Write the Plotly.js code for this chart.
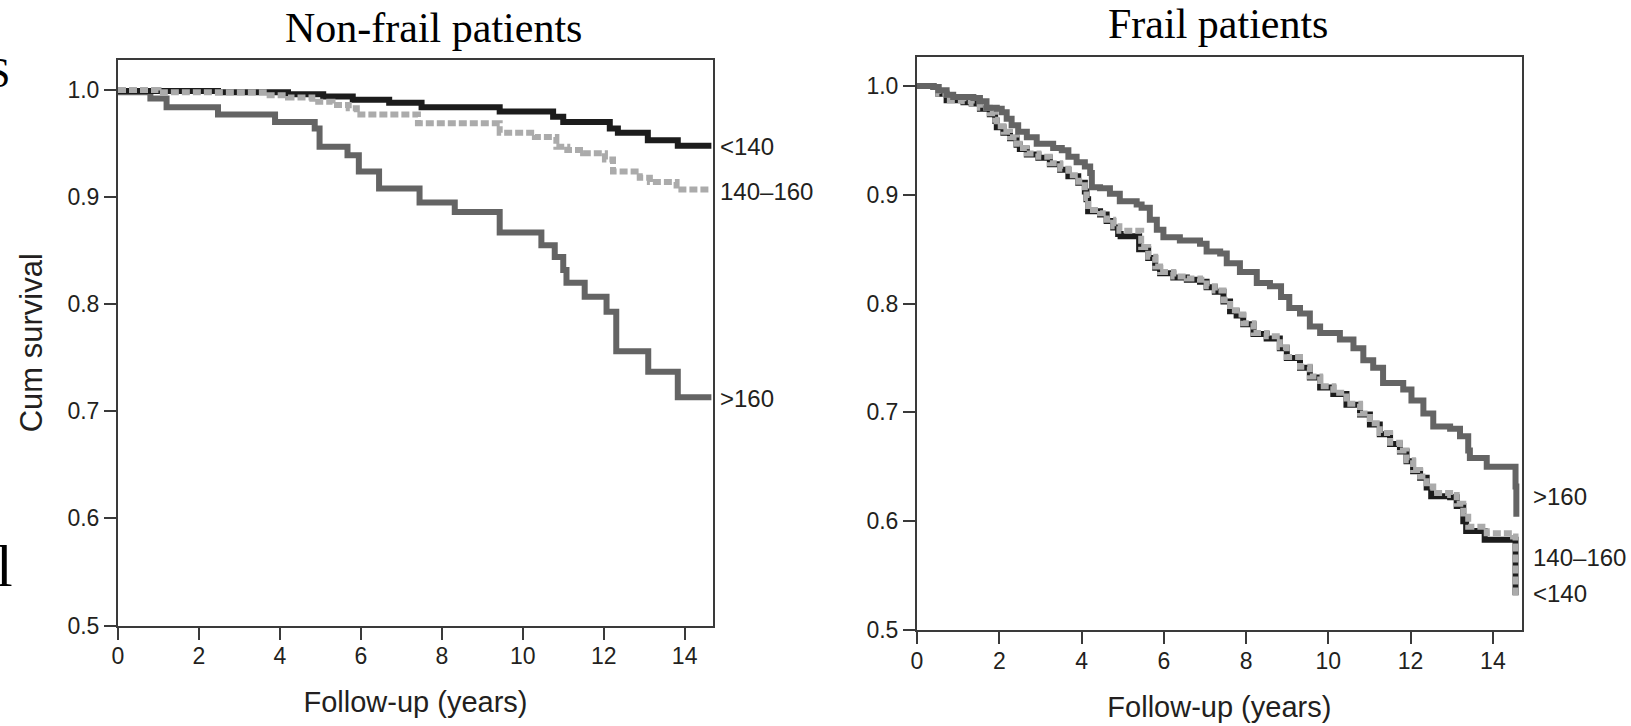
<!DOCTYPE html>
<html>
<head>
<meta charset="utf-8">
<script src="https://cdn.plot.ly/plotly-3.0.1.min.js"></script>
<style>html,body{margin:0;padding:0;background:#fff;}#chart{width:1631px;height:726px;}</style>
</head>
<body>
<div id="chart"></div>
<script>
// ---------- data ----------
const panelTitles = ['Non-frail patients', 'Frail patients'];
const seriesNames = ['<140', '140\u2013160', '>160'];
const xTicks = [0, 2, 4, 6, 8, 10, 12, 14];
const yTicks = [0.5, 0.6, 0.7, 0.8, 0.9, 1.0];
const xTitle = 'Follow-up (years)';
const yTitle = 'Cum survival';

// Non-frail patients
const nf_lt140_t = [0, 2.47, 4.2, 5.07, 5.8, 6.7, 7.5, 9.43, 10.75, 11.0, 12.15, 12.35, 13.09, 13.83, 14.66];
const nf_lt140_s = [0.999, 0.998, 0.996, 0.994, 0.991, 0.988, 0.984, 0.980, 0.975, 0.970, 0.964, 0.960, 0.953, 0.948, 0.948];

const nf_mid_t = [0, 1.0, 3.6, 4.2, 4.8, 5.3, 5.7, 5.9, 7.41, 9.43, 10.3, 10.83, 11.1, 11.49, 12.03, 12.23, 12.89, 13.14, 13.8, 14.66];
const nf_mid_s = [1.0, 0.998, 0.995, 0.993, 0.989, 0.986, 0.983, 0.977, 0.969, 0.960, 0.956, 0.947, 0.944, 0.941, 0.935, 0.924, 0.918, 0.914, 0.907, 0.907];

const nf_gt160_t = [0, 0.8, 1.2, 2.47, 3.88, 4.86, 4.98, 5.67, 5.95, 6.45, 7.45, 8.32, 9.43, 10.46, 10.79, 11.0, 11.08, 11.53, 12.07, 12.31, 13.1, 13.83, 14.66];
const nf_gt160_s = [0.998, 0.992, 0.984, 0.977, 0.970, 0.964, 0.947, 0.939, 0.924, 0.908, 0.895, 0.886, 0.867, 0.855, 0.844, 0.832, 0.820, 0.807, 0.793, 0.756, 0.737, 0.713, 0.713];

// Frail patients
const fr_lt140_t = [0, 0.40, 0.52, 0.72, 1.13, 1.33, 1.53, 1.77, 1.90, 1.94, 2.10, 2.26, 2.42, 2.50, 2.67, 2.95, 3.23, 3.48, 3.68, 3.92, 4.08, 4.12, 4.16, 4.45, 4.61, 4.77, 4.89, 4.95, 5.40, 5.62, 5.79, 5.91, 6.23, 6.56, 6.88, 7.04, 7.24, 7.45, 7.61, 7.77, 7.93, 8.18, 8.50, 8.82, 8.99, 9.31, 9.55, 9.80, 10.12, 10.44, 10.77, 11.01, 11.25, 11.50, 11.74, 11.90, 12.06, 12.23, 12.39, 12.50, 12.96, 13.12, 13.28, 13.35, 13.80, 14.49, 14.55];
const fr_lt140_s = [1.000, 0.999, 0.993, 0.987, 0.985, 0.984, 0.979, 0.974, 0.968, 0.962, 0.957, 0.952, 0.946, 0.942, 0.937, 0.934, 0.928, 0.923, 0.917, 0.911, 0.903, 0.896, 0.885, 0.882, 0.876, 0.870, 0.864, 0.862, 0.850, 0.842, 0.833, 0.828, 0.824, 0.822, 0.820, 0.815, 0.811, 0.802, 0.793, 0.789, 0.781, 0.772, 0.768, 0.759, 0.750, 0.741, 0.732, 0.723, 0.717, 0.707, 0.698, 0.689, 0.680, 0.671, 0.664, 0.655, 0.646, 0.640, 0.631, 0.623, 0.622, 0.614, 0.600, 0.591, 0.583, 0.583, 0.532];

const fr_mid_t = [0, 0.40, 0.52, 0.72, 1.13, 1.33, 1.53, 1.77, 1.90, 1.94, 2.10, 2.26, 2.42, 2.50, 2.67, 2.95, 3.23, 3.48, 3.68, 3.92, 4.08, 4.12, 4.16, 4.45, 4.61, 4.77, 4.92, 5.45, 5.62, 5.79, 5.91, 6.23, 6.56, 6.88, 7.04, 7.24, 7.45, 7.61, 7.77, 7.93, 8.18, 8.50, 8.82, 8.99, 9.31, 9.55, 9.80, 10.12, 10.44, 10.77, 11.01, 11.25, 11.50, 11.74, 11.90, 12.06, 12.23, 12.39, 12.55, 12.96, 13.12, 13.28, 13.40, 13.85, 14.49, 14.55];
const fr_mid_s = [1.000, 0.999, 0.993, 0.987, 0.986, 0.984, 0.980, 0.975, 0.969, 0.963, 0.958, 0.953, 0.947, 0.943, 0.938, 0.935, 0.929, 0.924, 0.918, 0.912, 0.904, 0.897, 0.886, 0.883, 0.877, 0.871, 0.867, 0.852, 0.843, 0.834, 0.829, 0.825, 0.823, 0.822, 0.816, 0.812, 0.803, 0.794, 0.790, 0.782, 0.773, 0.770, 0.760, 0.751, 0.742, 0.733, 0.724, 0.718, 0.708, 0.699, 0.690, 0.681, 0.672, 0.665, 0.656, 0.647, 0.641, 0.632, 0.626, 0.624, 0.616, 0.607, 0.595, 0.589, 0.586, 0.532];

const fr_gt160_t = [0, 0.40, 0.52, 0.72, 0.88, 1.37, 1.53, 1.69, 1.94, 2.06, 2.18, 2.30, 2.46, 2.67, 2.91, 3.31, 3.52, 3.68, 3.88, 4.08, 4.21, 4.25, 4.45, 4.69, 4.93, 5.34, 5.46, 5.66, 5.83, 5.99, 6.39, 6.88, 7.04, 7.37, 7.53, 7.85, 8.26, 8.58, 8.85, 9.05, 9.31, 9.55, 9.80, 10.28, 10.61, 10.85, 11.09, 11.33, 11.82, 12.02, 12.31, 12.55, 12.96, 13.20, 13.40, 13.44, 13.85, 14.55, 14.57];
const fr_gt160_s = [1.000, 0.999, 0.996, 0.992, 0.990, 0.989, 0.986, 0.980, 0.979, 0.976, 0.970, 0.964, 0.958, 0.953, 0.947, 0.943, 0.941, 0.935, 0.930, 0.926, 0.920, 0.907, 0.906, 0.901, 0.894, 0.891, 0.888, 0.877, 0.868, 0.861, 0.858, 0.855, 0.848, 0.846, 0.837, 0.829, 0.819, 0.816, 0.806, 0.796, 0.791, 0.779, 0.773, 0.767, 0.759, 0.748, 0.741, 0.727, 0.721, 0.711, 0.699, 0.687, 0.685, 0.678, 0.665, 0.658, 0.650, 0.632, 0.604];

// label anchor values (end-of-curve labels)
const nfLabelY = [0.947, 0.905, 0.712];
const frLabelY = [0.534, 0.567, 0.6225];

// ---------- styling ----------
const W = 1631, H = 726;
const sansFont = "'Liberation Sans Narrow', 'Arial Narrow', 'Liberation Sans', Arial, sans-serif";
const serifFont = "'Liberation Serif', 'Times New Roman', serif";
const textColor = '#231f20';
const axisColor = '#3a3a3a';
const colors = ['#1c1c1c', '#ababab', '#646464'];
const dashes = ['solid', '8px,3px', 'solid'];
const LW = 6;

function trace(t, s, i, xa, ya) {
  return {
    x: t, y: s, type: 'scatter', mode: 'lines', name: seriesNames[i],
    xaxis: xa, yaxis: ya, hoverinfo: 'skip',
    line: {shape: 'hv', color: colors[i], width: LW, dash: dashes[i]}
  };
}

const data = [
  trace(nf_gt160_t, nf_gt160_s, 2, 'x', 'y'),
  trace(nf_lt140_t, nf_lt140_s, 0, 'x', 'y'),
  trace(nf_mid_t, nf_mid_s, 1, 'x', 'y'),
  trace(fr_lt140_t, fr_lt140_s, 0, 'x2', 'y2'),
  trace(fr_mid_t, fr_mid_s, 1, 'x2', 'y2'),
  trace(fr_gt160_t, fr_gt160_s, 2, 'x2', 'y2')
];

function xAxis(domain, anchor) {
  return {
    domain: domain, anchor: anchor, range: [0, 14.7],
    tickmode: 'array', tickvals: xTicks, ticktext: xTicks.map(String),
    ticks: 'outside', ticklen: 12, tickwidth: 2, tickcolor: axisColor,
    showline: true, linecolor: axisColor, linewidth: 2, mirror: true,
    showgrid: false, zeroline: false, fixedrange: true, ticklabelstandoff: -3,
    tickfont: {family: sansFont, size: 23, color: textColor},
    title: {text: xTitle, font: {family: sansFont, size: 29, color: textColor}, standoff: 24}
  };
}
function yAxis(domain, anchor, range, withTitle) {
  const a = {
    domain: domain, anchor: anchor, range: range,
    tickmode: 'array', tickvals: yTicks, ticktext: yTicks.map(v => v.toFixed(1)),
    ticks: 'outside', ticklen: 12, tickwidth: 2, tickcolor: axisColor,
    showline: true, linecolor: axisColor, linewidth: 2, mirror: true,
    showgrid: false, zeroline: false, fixedrange: true,
    tickfont: {family: sansFont, size: 23, color: textColor}
  };
  if (withTitle) a.title = {text: yTitle, font: {family: sansFont, size: 31, color: textColor}, standoff: 16};
  return a;
}

const annotations = [];
// panel titles
annotations.push({text: panelTitles[0], xref: 'paper', yref: 'paper', x: 433.5 / W, y: 1 - 28 / H,
  xanchor: 'center', yanchor: 'middle', showarrow: false, font: {family: serifFont, size: 42, color: '#000'}});
annotations.push({text: panelTitles[1], xref: 'paper', yref: 'paper', x: 1217.5 / W, y: 1 - 24 / H,
  xanchor: 'center', yanchor: 'middle', showarrow: false, font: {family: serifFont, size: 42, color: '#000'}});
// cropped fragments of neighbouring text at the left edge (as in the reference)
annotations.push({text: 'S', xref: 'paper', yref: 'paper', x: 12 / W, y: 1 - 73 / H,
  xanchor: 'right', yanchor: 'middle', showarrow: false, font: {family: serifFont, size: 42, color: '#000'}});
annotations.push({text: 'l', xref: 'paper', yref: 'paper', x: 15 / W, y: 1 - 566 / H,
  xanchor: 'right', yanchor: 'middle', showarrow: false, font: {family: serifFont, size: 60, color: '#000'}});
// end-of-curve labels
seriesNames.forEach((n, i) => {
  annotations.push({text: n, xref: 'x', yref: 'y', x: 14.7, y: nfLabelY[i], xanchor: 'left', yanchor: 'middle',
    xshift: 5, showarrow: false, font: {family: sansFont, size: 24, color: textColor}});
  annotations.push({text: n, xref: 'x2', yref: 'y2', x: 14.7, y: frLabelY[i], xanchor: 'left', yanchor: 'middle',
    xshift: 9, showarrow: false, font: {family: sansFont, size: 24, color: textColor}});
});

const layout = {
  width: W, height: H, margin: {l: 0, r: 0, t: 0, b: 0, pad: 0},
  paper_bgcolor: '#fff', plot_bgcolor: '#fff', showlegend: false,
  xaxis: xAxis([118 / W, 713 / W], 'y'),
  yaxis: yAxis([(H - 625.5) / H, (H - 60) / H], 'x', [0.5, 1.028], true),
  xaxis2: xAxis([917 / W, 1521.7 / W], 'y2'),
  yaxis2: yAxis([(H - 630) / H, (H - 57.3) / H], 'x2', [0.5, 1.0264], false),
  annotations: annotations
};

Plotly.newPlot('chart', data, layout, {displayModeBar: false, staticPlot: true});
</script>
</body>
</html>
